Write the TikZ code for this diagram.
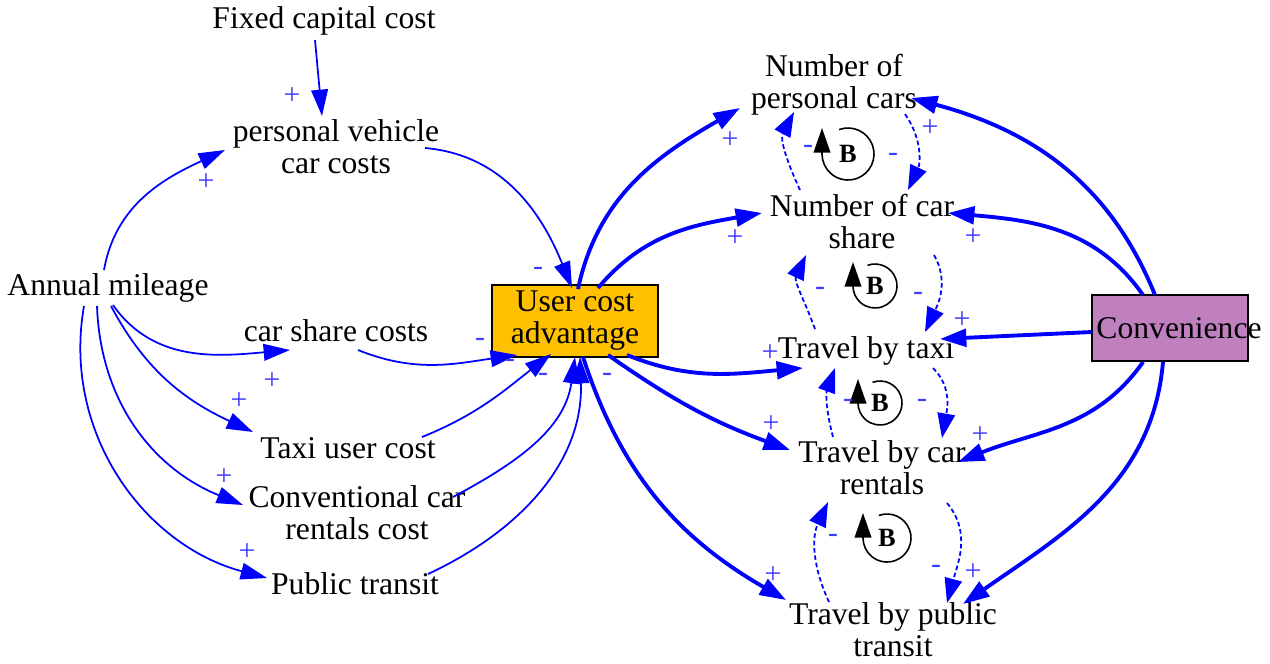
\documentclass[tikz,border=0pt]{standalone}
\usepackage{fontspec}
\setmainfont{Liberation Serif}
\usetikzlibrary{arrows.meta,calc}
\definecolor{cblue}{RGB}{0,0,255}
\definecolor{sgn}{RGB}{60,60,255}
\definecolor{ucafill}{RGB}{255,192,0}
\definecolor{convfill}{RGB}{192,128,192}
\begin{document}
\begin{tikzpicture}[x=0.02cm,y=0.02cm,
  lbl/.style={font=\fontsize{18}{18.2}\selectfont, align=center, inner sep=2pt},
  sg/.style={font=\fontsize{17}{17}\selectfont, text=sgn, inner sep=0pt},
  lnk/.style={draw=cblue, line width=1pt, -{Triangle[length=15pt,width=9.5pt]}},
  lnkb/.style={draw=cblue, line width=2.2pt, -{Triangle[length=15pt,width=10pt]}},
  lnkd/.style={draw=cblue, line width=1pt, dash pattern=on 2.6pt off 1.6pt, -{Triangle[length=14pt,width=10pt]}},
  bring/.style={draw=black, line width=0.9pt},
  barr/.style={draw=black, line width=0.9pt, -{Triangle[length=14pt,width=9.5pt]}},
  bl/.style={font=\fontsize{15}{15}\selectfont\bfseries, inner sep=0pt}
]
\useasboundingbox (0,0) rectangle (1270,-663);

% ---- nodes ----
\node[lbl] (fcc) at (324,-21) {Fixed capital cost};
\node[lbl] (pvc) at (336,-147) {personal vehicle\\car costs};
\node[lbl] (am) at (108,-288) {Annual mileage};
\node[lbl] (csc) at (336,-331) {car share costs};
\node[lbl] (tuc) at (348,-448) {Taxi user cost};
\node[lbl] (ccr) at (357,-513) {Conventional car\\rentals cost};
\node[lbl] (pt) at (355,-584) {Public transit};
\node[lbl, draw=black, line width=0.8pt, fill=ucafill, minimum width=3.32cm, minimum height=1.44cm] (uca) at (575,-321) {User cost\\advantage};
\node[lbl] (npc) at (834,-85) {Number of\\personal cars};
\node[lbl] (ncs) at (862,-222) {Number of car\\share};
\node[lbl] (tbt) at (866,-351) {Travel by taxi};
\node[lbl] (tbc) at (882,-468) {Travel by car\\rentals};
\node[lbl] (tbp) at (893,-630) {Travel by public\\transit};
\node[draw=black, line width=0.8pt, fill=convfill, minimum width=3.12cm, minimum height=1.32cm, inner sep=0pt] (conv) at (1170,-328) {};
\node[lbl] (convt) at (1179,-328) {Convenience};

% ---- thin links (left) ----
\draw[lnk] ($(fcc)+(-9,-19)$) -- ($(pvc)+(-14,31)$);
\draw[lnk] ($(am)+(-4,18)$) to[out=80,in=205] ($(pvc)+(-111,-3)$);
\draw[lnk] ($(pvc)+(89,-1)$) to[out=-5,in=112] ($(uca)+(-3,33)$);
\draw[lnk] ($(am)+(5,-17)$) to[out=-55,in=185] ($(csc)+(-46,-19)$);
\draw[lnk] ($(am)+(3,-18)$) to[out=-62,in=155] ($(tuc)+(-95,16)$);
\draw[lnk] ($(am)+(-11,-18)$) to[out=-88,in=158] ($(ccr)+(-114,8)$);
\draw[lnk] ($(am)+(-24,-18)$) to[out=-100,in=165] ($(pt)+(-88,6)$);
\draw[lnk] ($(csc)+(22,-19)$) to[out=-22,in=188] ($(uca)+(-58,-34)$);
\draw[lnk] ($(tuc)+(74,11)$) to[out=22,in=218] ($(uca)+(-24,-33)$);
\draw[lnk] ($(ccr)+(96,16)$) to[out=28,in=-98] ($(uca)+(0,-36)$);
\draw[lnk] ($(pt)+(73,10)$) to[out=25,in=-88] ($(uca)+(5,-36)$);

% ---- thick links ----
\draw[lnkb] ($(uca)+(3,32)$) to[out=78,in=210] ($(npc)+(-94,-23)$);
\draw[lnkb] ($(uca)+(23,33)$) to[out=50,in=190] ($(ncs)+(-100,9)$);
\draw[lnkb] ($(uca)+(52,-34)$) to[out=-22,in=185] ($(tbt)+(-63,-17)$);
\draw[lnkb] ($(uca)+(33,-34)$) to[out=-35,in=160] ($(tbc)+(-92,18)$);
\draw[lnkb] ($(uca)+(8,-36)$) to[out=-72,in=150] ($(tbp)+(-107,30)$);
\draw[lnkb] ($(conv)+(-15,33)$) to[out=112,in=-15] ($(npc)+(77,-13)$);
\draw[lnkb] ($(conv)+(-27,33)$) to[out=125,in=-5] ($(ncs)+(86,9)$);
\draw[lnkb] ($(conv)+(-78,-4)$) -- ($(tbt)+(74,12)$);
\draw[lnkb] ($(conv)+(-27,-34)$) to[out=235,in=22] ($(tbc)+(76,6)$);
\draw[lnkb] ($(conv)+(-7,-34)$) to[out=-95,in=35] ($(tbp)+(70,26)$);

% ---- dashed loop links ----
\draw[lnkd] ($(ncs)+(-62,32)$) to[out=115,in=-118] ($(npc)+(-40,-27)$);
\draw[lnkd] ($(npc)+(71,-29)$) to[out=-55,in=65] ($(ncs)+(46,32)$);
\draw[lnkd] ($(tbt)+(-51,22)$) to[out=110,in=-115] ($(ncs)+(-56,-33)$);
\draw[lnkd] ($(ncs)+(72,-33)$) to[out=-60,in=65] ($(tbt)+(59,19)$);
\draw[lnkd] ($(tbc)+(-49,31)$) to[out=105,in=-110] ($(tbt)+(-31,-17)$);
\draw[lnkd] ($(tbt)+(67,-17)$) to[out=-45,in=80] ($(tbc)+(60,30)$);
\draw[lnkd] ($(tbp)+(-64,28)$) to[out=115,in=-115] ($(tbc)+(-54,-34)$);
\draw[lnkd] ($(tbc)+(65,-35)$) to[out=-50,in=75] ($(tbp)+(54,27)$);

% ---- balancing loop symbols ----
\node[bl] (b1) at (848,-154) {B};
\draw[bring] ([shift={(110:26)}]b1.center) arc[start angle=110,end angle=-180,radius=26];
\draw[barr] ([shift={(-26,0)}]b1.center) -- ++(0,26);
\node[bl] (b2) at (875,-286) {B};
\draw[bring] ([shift={(110:22)}]b2.center) arc[start angle=110,end angle=-180,radius=22];
\draw[barr] ([shift={(-22,0)}]b2.center) -- ++(0,24);
\node[bl] (b3) at (880,-403) {B};
\draw[bring] ([shift={(110:22)}]b3.center) arc[start angle=110,end angle=-180,radius=22];
\draw[barr] ([shift={(-22,0)}]b3.center) -- ++(0,24);
\node[bl] (b4) at (887,-538) {B};
\draw[bring] ([shift={(110:24)}]b4.center) arc[start angle=110,end angle=-180,radius=24];
\draw[barr] ([shift={(-24,0)}]b4.center) -- ++(0,25);

% ---- polarity signs ----
\node[sg] (s1) at (292,-96) {+};
\node[sg] (s2) at (206,-182) {+};
\node[sg] (s3) at (538,-271) {-};
\node[sg] (s4) at (272,-381) {+};
\node[sg] (s5) at (239,-401) {+};
\node[sg] (s6) at (224,-477) {+};
\node[sg] (s7) at (247,-552) {+};
\node[sg] (s8) at (480,-342) {-};
\node[sg] (s9) at (510,-363) {-};
\node[sg] (s10) at (543,-377) {-};
\node[sg] (s11) at (607,-377) {-};
\node[sg] (s12) at (730,-140) {+};
\node[sg] (s13) at (735,-238) {+};
\node[sg] (s14) at (770,-353) {+};
\node[sg] (s15) at (771,-424) {+};
\node[sg] (s16) at (773,-575) {+};
\node[sg] (s17) at (930,-128) {+};
\node[sg] (s18) at (973,-237) {+};
\node[sg] (s19) at (962,-320) {+};
\node[sg] (s20) at (980,-435) {+};
\node[sg] (s21) at (973,-572) {+};
\node[sg] (s22) at (808,-149) {-};
\node[sg] (s23) at (893,-157) {-};
\node[sg] (s24) at (820,-291) {-};
\node[sg] (s25) at (918,-296) {-};
\node[sg] (s26) at (848,-403) {-};
\node[sg] (s27) at (922,-403) {-};
\node[sg] (s28) at (833,-538) {-};
\node[sg] (s29) at (936,-569) {-};
\end{tikzpicture}
\end{document}
